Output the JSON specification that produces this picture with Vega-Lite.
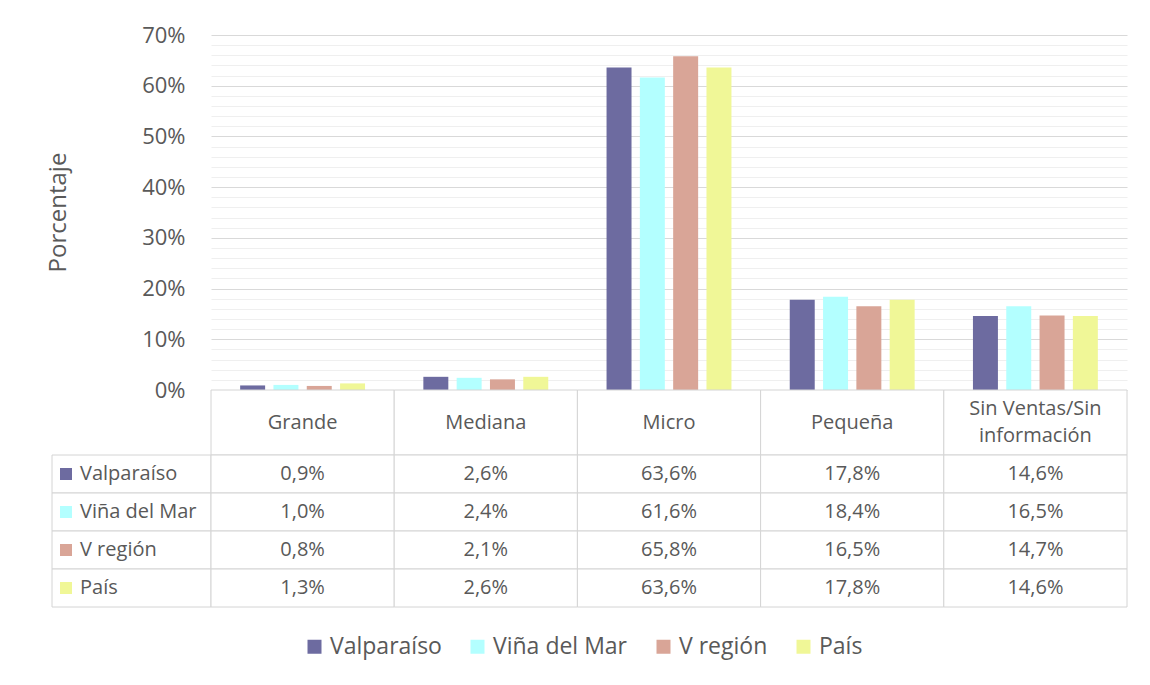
{
  "$schema": "https://vega.github.io/schema/vega-lite/v6.json",
  "background": "white",
  "padding": {"left": 46, "top": 24, "right": 10, "bottom": 10},
  "config": {
    "font": "Open Sans",
    "locale": {"number": {"decimal": ",", "thousands": ".", "grouping": [3], "currency": ["$", ""]}},
    "view": {"stroke": null}
  },
  "datasets": {
    "d": [
      {"cat": "Grande", "series": "Valparaíso", "value": 0.009},
      {"cat": "Grande", "series": "Viña del Mar", "value": 0.010},
      {"cat": "Grande", "series": "V región", "value": 0.008},
      {"cat": "Grande", "series": "País", "value": 0.013},
      {"cat": "Mediana", "series": "Valparaíso", "value": 0.026},
      {"cat": "Mediana", "series": "Viña del Mar", "value": 0.024},
      {"cat": "Mediana", "series": "V región", "value": 0.021},
      {"cat": "Mediana", "series": "País", "value": 0.026},
      {"cat": "Micro", "series": "Valparaíso", "value": 0.636},
      {"cat": "Micro", "series": "Viña del Mar", "value": 0.616},
      {"cat": "Micro", "series": "V región", "value": 0.658},
      {"cat": "Micro", "series": "País", "value": 0.636},
      {"cat": "Pequeña", "series": "Valparaíso", "value": 0.178},
      {"cat": "Pequeña", "series": "Viña del Mar", "value": 0.184},
      {"cat": "Pequeña", "series": "V región", "value": 0.165},
      {"cat": "Pequeña", "series": "País", "value": 0.178},
      {"cat": "Sin Ventas/Sin información", "series": "Valparaíso", "value": 0.146},
      {"cat": "Sin Ventas/Sin información", "series": "Viña del Mar", "value": 0.165},
      {"cat": "Sin Ventas/Sin información", "series": "V región", "value": 0.147},
      {"cat": "Sin Ventas/Sin información", "series": "País", "value": 0.146}
    ],
    "cats": [
      {"cat": "Grande", "label": "Grande", "lines": 1},
      {"cat": "Mediana", "label": "Mediana", "lines": 1},
      {"cat": "Micro", "label": "Micro", "lines": 1},
      {"cat": "Pequeña", "label": "Pequeña", "lines": 1},
      {"cat": "Sin Ventas/Sin información", "label": "Sin Ventas/Sin\ninformación", "lines": 2}
    ]
  },
  "columns": 2,
  "spacing": 0,
  "bounds": "flush",
  "resolve": {"scale": {"color": "shared"}},
  "concat": [
    {
      "width": 159, "height": 355,
      "data": {"values": [{}]},
      "mark": {"type": "point", "opacity": 0}
    },
    {
      "width": 916, "height": 355,
      "data": {"name": "d"},
      "layer": [
        {
          "mark": {"type": "bar"},
          "encoding": {
            "x": {"field": "cat", "type": "nominal", "scale": {"domain": ["Grande", "Mediana", "Micro", "Pequeña", "Sin Ventas/Sin información"], "paddingInner": 0, "paddingOuter": 0}, "axis": null},
            "xOffset": {"field": "series", "type": "nominal", "scale": {"domain": ["Valparaíso", "Viña del Mar", "V región", "País"], "paddingInner": 0.25, "paddingOuter": 0.875}},
            "y": {
              "field": "value", "type": "quantitative",
              "scale": {"domain": [0, 0.7], "nice": false},
              "axis": {
                "values": [0, 0.1, 0.2, 0.3, 0.4, 0.5, 0.6, 0.7],
                "format": ".0%",
                "grid": true, "gridColor": "#d9d9d9", "gridWidth": 1,
                "domain": false, "ticks": false,
                "labelPadding": 26, "labelFontSize": 22, "labelColor": "#595959",
                "title": "Porcentaje", "titleFontSize": 24, "titleColor": "#595959", "titleFontWeight": "normal",
                "titleX": -153, "titleY": 177, "titleAngle": -90, "titleBaseline": "middle", "titleAlign": "center"
              }
            },
            "color": {
              "field": "series", "type": "nominal",
              "scale": {"domain": ["Valparaíso", "Viña del Mar", "V región", "País"], "range": ["#6D6BA0", "#B3FFFF", "#D9A597", "#F0F797"]},
              "legend": {
                "orient": "none", "legendX": 251, "legendY": 600, "direction": "horizontal",
                "title": null, "symbolType": "square", "symbolSize": 196, "symbolStrokeWidth": 0,
                "labelFontSize": 23, "labelColor": "#595959", "columnPadding": 24, "labelOffset": 4
              }
            }
          }
        },
        {
          "mark": {"type": "bar", "opacity": 0},
          "encoding": {
            "x": {"field": "cat", "type": "nominal", "scale": {"domain": ["Grande", "Mediana", "Micro", "Pequeña", "Sin Ventas/Sin información"], "paddingInner": 0, "paddingOuter": 0}, "axis": null},
            "xOffset": {"field": "series", "type": "nominal", "scale": {"domain": ["Valparaíso", "Viña del Mar", "V región", "País"], "paddingInner": 0.25, "paddingOuter": 0.875}},
            "y": {
              "field": "value", "type": "quantitative",
              "axis": {
                "orient": "right",
                "values": [0.02, 0.04, 0.06, 0.08, 0.12, 0.14, 0.16, 0.18, 0.22, 0.24, 0.26, 0.28, 0.32, 0.34, 0.36, 0.38, 0.42, 0.44, 0.46, 0.48, 0.52, 0.54, 0.56, 0.58, 0.62, 0.64, 0.66, 0.68],
                "grid": true, "gridColor": "#efefef", "gridWidth": 1,
                "labels": false, "ticks": false, "domain": false, "title": null
              }
            }
          }
        }
      ],
      "resolve": {"axis": {"y": "independent"}}
    },
    {
      "width": 159, "height": 65,
      "data": {"values": [{}]},
      "mark": {"type": "point", "opacity": 0}
    },
    {
      "width": 916, "height": 65,
      "data": {"name": "cats"},
      "layer": [
        {
          "mark": {"type": "rect", "fill": "white", "stroke": "#d4d4d4", "strokeWidth": 1},
          "encoding": {
            "x": {"field": "cat", "type": "nominal", "scale": {"domain": ["Grande", "Mediana", "Micro", "Pequeña", "Sin Ventas/Sin información"], "paddingInner": 0, "paddingOuter": 0}, "axis": null}
          }
        },
        {
          "transform": [{"filter": "datum.lines === 1"}],
          "mark": {"type": "text", "baseline": "middle", "fontSize": 20, "color": "#595959"},
          "encoding": {
            "x": {"field": "cat", "type": "nominal", "scale": {"domain": ["Grande", "Mediana", "Micro", "Pequeña", "Sin Ventas/Sin información"], "paddingInner": 0, "paddingOuter": 0}, "axis": null},
            "text": {"field": "label"}
          }
        },
        {
          "transform": [{"filter": "datum.lines === 2"}],
          "mark": {"type": "text", "lineBreak": "\n", "lineHeight": 27, "baseline": "middle", "dy": -13.5, "fontSize": 20, "color": "#595959"},
          "encoding": {
            "x": {"field": "cat", "type": "nominal", "scale": {"domain": ["Grande", "Mediana", "Micro", "Pequeña", "Sin Ventas/Sin información"], "paddingInner": 0, "paddingOuter": 0}, "axis": null},
            "text": {"field": "label"}
          }
        }
      ]
    },
    {
      "width": 159, "height": 152,
      "data": {"name": "d"},
      "transform": [{"filter": "datum.cat === 'Grande'"}],
      "layer": [
        {
          "mark": {"type": "rect", "fill": "white", "stroke": "#d4d4d4", "strokeWidth": 1},
          "encoding": {
            "y": {"field": "series", "type": "nominal", "scale": {"domain": ["Valparaíso", "Viña del Mar", "V región", "País"], "paddingInner": 0, "paddingOuter": 0}, "axis": null}
          }
        },
        {
          "mark": {"type": "point", "shape": "square", "filled": true, "size": 144, "opacity": 1, "xOffset": -65.5},
          "encoding": {
            "y": {"field": "series", "type": "nominal", "scale": {"domain": ["Valparaíso", "Viña del Mar", "V región", "País"], "paddingInner": 0, "paddingOuter": 0}, "axis": null},
            "color": {
              "field": "series", "type": "nominal",
              "scale": {"domain": ["Valparaíso", "Viña del Mar", "V región", "País"], "range": ["#6D6BA0", "#B3FFFF", "#D9A597", "#F0F797"]},
              "legend": {
                "orient": "none", "legendX": 251, "legendY": 600, "direction": "horizontal",
                "title": null, "symbolType": "square", "symbolSize": 196, "symbolStrokeWidth": 0,
                "labelFontSize": 23, "labelColor": "#595959", "columnPadding": 24, "labelOffset": 4
              }
            }
          }
        },
        {
          "mark": {"type": "text", "align": "left", "baseline": "middle", "dx": -51.5, "fontSize": 20, "color": "#595959"},
          "encoding": {
            "y": {"field": "series", "type": "nominal", "scale": {"domain": ["Valparaíso", "Viña del Mar", "V región", "País"], "paddingInner": 0, "paddingOuter": 0}, "axis": null},
            "text": {"field": "series"}
          }
        }
      ]
    },
    {
      "width": 916, "height": 152,
      "data": {"name": "d"},
      "layer": [
        {
          "mark": {"type": "rect", "fill": "white", "stroke": "#d4d4d4", "strokeWidth": 1},
          "encoding": {
            "x": {"field": "cat", "type": "nominal", "scale": {"domain": ["Grande", "Mediana", "Micro", "Pequeña", "Sin Ventas/Sin información"], "paddingInner": 0, "paddingOuter": 0}, "axis": null},
            "y": {"field": "series", "type": "nominal", "scale": {"domain": ["Valparaíso", "Viña del Mar", "V región", "País"], "paddingInner": 0, "paddingOuter": 0}, "axis": null}
          }
        },
        {
          "mark": {"type": "text", "baseline": "middle", "fontSize": 20, "color": "#595959"},
          "encoding": {
            "x": {"field": "cat", "type": "nominal", "scale": {"domain": ["Grande", "Mediana", "Micro", "Pequeña", "Sin Ventas/Sin información"], "paddingInner": 0, "paddingOuter": 0}, "axis": null},
            "y": {"field": "series", "type": "nominal", "scale": {"domain": ["Valparaíso", "Viña del Mar", "V región", "País"], "paddingInner": 0, "paddingOuter": 0}, "axis": null},
            "text": {"field": "value", "type": "quantitative", "format": ".1%"}
          }
        }
      ]
    }
  ]
}
